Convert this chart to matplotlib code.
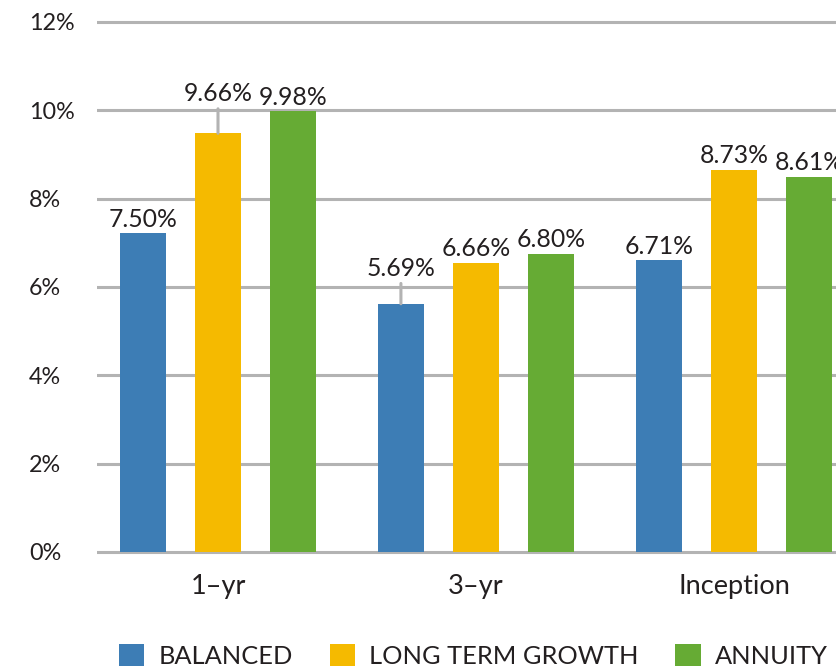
import matplotlib
matplotlib.use("Agg")
import matplotlib.pyplot as plt
import numpy as np

# ---- data ----
categories = ["1\u2013yr", "3\u2013yr", "Inception"]
series_names = ["BALANCED", "LONG TERM GROWTH", "ANNUITY"]
balanced_heights = [7.23, 5.62, 6.60]
growth_heights = [9.48, 6.54, 8.64]
annuity_heights = [9.98, 6.74, 8.48]
balanced_labels = ["7.50%", "5.69%", "6.71%"]
growth_labels = ["9.66%", "6.66%", "8.73%"]
annuity_labels = ["9.98%", "6.80%", "8.61%"]
y_ticks = [0, 2, 4, 6, 8, 10, 12]
y_tick_labels = ["0%", "2%", "4%", "6%", "8%", "10%", "12%"]

# ---- style ----
colors = ["#3D7DB5", "#F5BA00", "#66AB34"]
grid_color = "#B3B3B3"
text_color = "#231F20"
FONT = ["Lato", "DejaVu Sans"]
plt.rcParams["font.family"] = FONT

W, H = 837, 668
fig = plt.figure(figsize=(W / 100, H / 100), dpi=100)
px_per_unit = 44.17
ylo, yhi = -0.1, 12.1
ax_left_px, ax_right_px = 97, 855
ax_bottom_px = 552 + 0.1 * px_per_unit
ax_h_px = (yhi - ylo) * px_per_unit
ax = fig.add_axes([ax_left_px / W, (H - ax_bottom_px) / H,
                   (ax_right_px - ax_left_px) / W, ax_h_px / H])

x = np.arange(len(categories))
offset = 0.291
width = 0.178
series_heights = [balanced_heights, growth_heights, annuity_heights]
series_labels = [balanced_labels, growth_labels, annuity_labels]
# label baseline offsets above bar top, in points (collision avoidance)
label_offsets = [[3.8, 20.0, 5.0], [23.0, 5.0, 5.0], [4.3, 5.4, 5.0]]
leader = [[False, True, False], [True, False, False], [False, False, False]]

handles = []
for i, (hts, labs) in enumerate(zip(series_heights, series_labels)):
    xs = x + (i - 1) * offset
    b = ax.bar(xs, hts, width=width, color=colors[i], zorder=3, label=series_names[i])
    handles.append(b)
    for j, (xx, hh, lab) in enumerate(zip(xs, hts, labs)):
        kw = {}
        if leader[i][j]:
            kw["arrowprops"] = dict(arrowstyle="-", color=grid_color, lw=2.2,
                                    relpos=(0.5, 0.0), shrinkA=0.5, shrinkB=0)
        ax.annotate(lab, xy=(xx, hh), xytext=(0, label_offsets[i][j]),
                    textcoords="offset points", ha="center", va="baseline",
                    fontsize=17.8, color=text_color, zorder=4, **kw)

ax.set_xlim(-121 / 258, 2 + 121 / 258)
ax.set_ylim(ylo, yhi)
ax.set_yticks(y_ticks)
ax.set_yticklabels(y_tick_labels)
ax.set_xticks(x)
ax.set_xticklabels(categories)
ax.yaxis.grid(True, color=grid_color, lw=2.2, zorder=0)
ax.set_axisbelow(True)
for s in ax.spines.values():
    s.set_visible(False)
ax.tick_params(axis="y", length=0, pad=49, labelsize=16.8, labelcolor=text_color)
for t in ax.get_yticklabels():
    t.set_horizontalalignment("left")
ax.tick_params(axis="x", length=0, pad=13, labelsize=19.5, labelcolor=text_color)
xt = ax.get_xticklabels()
xt[0].set_x(0.025)

leg = fig.legend(handles=handles, loc="center left",
                 bbox_to_anchor=(119 / W, (H - 656) / H),
                 ncol=3, frameon=False, fontsize=18.3,
                 handlelength=1.0, handleheight=0.95,
                 handletextpad=0.55, columnspacing=1.45, borderpad=0,
                 borderaxespad=0)
for t in leg.get_texts():
    t.set_color(text_color)

fig.savefig("out.png", dpi=100)
